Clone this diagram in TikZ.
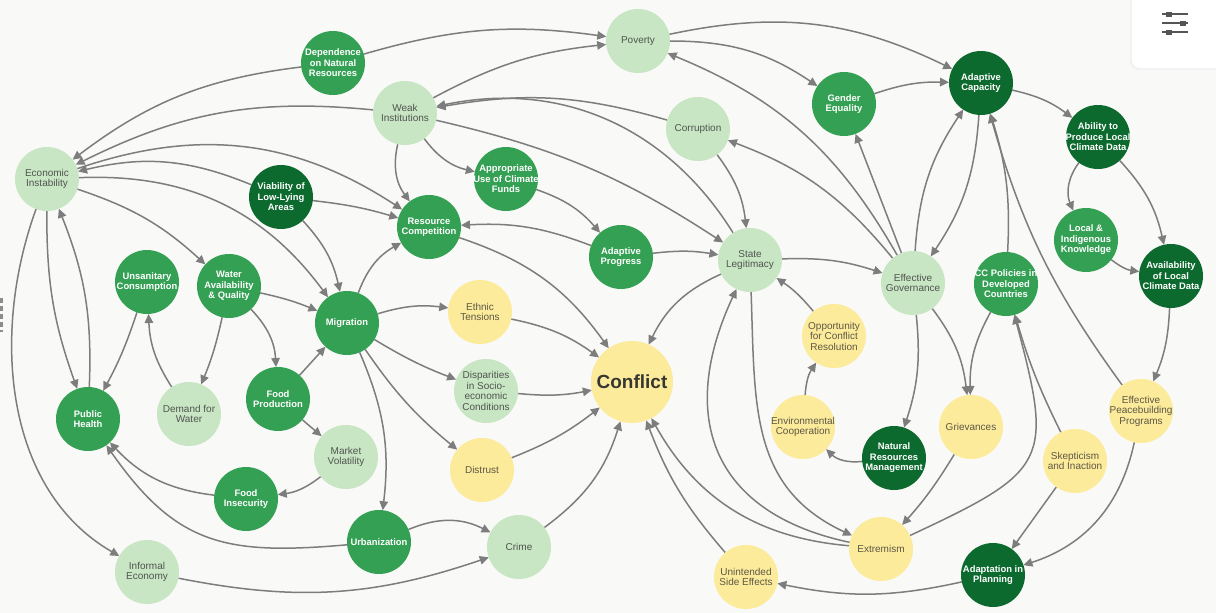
\documentclass[tikz,border=0pt]{standalone}
\usepackage{fontspec}
\setmainfont{Liberation Sans}
\usetikzlibrary{arrows.meta}
\definecolor{bgc}{RGB}{249,249,247}
\definecolor{lgreen}{RGB}{200,230,195}
\definecolor{mgreen}{RGB}{52,160,84}
\definecolor{dgreen}{RGB}{13,106,46}
\definecolor{yellowc}{RGB}{253,235,156}
\definecolor{lgtext}{RGB}{80,84,80}
\definecolor{ytext}{RGB}{92,88,68}
\definecolor{conftext}{RGB}{55,55,50}
\definecolor{edgec}{RGB}{125,125,125}
\definecolor{iconc}{RGB}{85,85,85}
\pgfdeclarelayer{bgl}
\pgfdeclarelayer{edges}
\pgfsetlayers{bgl,edges,main}
\tikzset{
  circ/.style={circle, minimum size=64pt, inner sep=0pt, outer sep=0pt},
  dktxt/.style={align=center, inner sep=0pt, font=\fontsize{10}{10.5}\selectfont},
  whtxt/.style={align=center, inner sep=0pt, text=white, font=\fontsize{9.4}{10.5}\selectfont\bfseries},
  lgn/.style={circ, fill=lgreen, label={[dktxt, text=lgtext]center:#1}},
  mgn/.style={circ, fill=mgreen, label={[whtxt]center:#1}},
  dgn/.style={circ, fill=dgreen, label={[whtxt]center:#1}},
  yln/.style={circ, fill=yellowc, label={[dktxt, text=ytext]center:#1}},
  e/.style={draw=edgec, line width=1.5pt, -{Triangle[length=9pt,width=8.5pt]}},
}
\begin{document}
\begin{tikzpicture}[x=1pt,y=1pt]
\begin{pgfonlayer}{bgl}
\fill[bgc] (0,0) rectangle (1216,-613);
% UI card
\begin{scope}
\clip (0,0) rectangle (1216,-613);
\fill[black!5, rounded corners=9pt] (1130,12) rectangle (1240,-70);
\fill[white, rounded corners=8pt] (1132,12) rectangle (1240,-68);
\end{scope}
\draw[iconc, line width=1.4pt] (1162,-14) -- (1188,-14) (1162,-23) -- (1188,-23) (1162,-32) -- (1188,-32);
\fill[iconc] (1166,-11.5) rectangle (1172,-16.5);
\fill[iconc] (1180,-20.5) rectangle (1186,-25.5);
\fill[iconc] (1166,-29.5) rectangle (1172,-34.5);
% left edge handle
\draw[black!45, line width=2.5pt, dash pattern=on 5pt off 3pt] (1.3,-298) -- (1.3,-332);
\end{pgfonlayer}

% nodes
\node[mgn={Dependence\\on Natural\\Resources}] (dnr) at (333,-63) {};
\node[lgn={Poverty}] (pov) at (638,-41) {};
\node[lgn={Weak\\Institutions}] (wi) at (405,-113) {};
\node[lgn={Corruption}] (cor) at (698,-129) {};
\node[mgn={Gender\\Equality}] (ge) at (844,-104) {};
\node[dgn={Adaptive\\Capacity}] (ac) at (981,-83) {};
\node[dgn={Ability to\\Produce Local\\Climate Data}] (abl) at (1098,-137) {};
\node[lgn={Economic\\Instability}] (ei) at (47,-179) {};
\node[dgn={Viability of\\Low-Lying\\Areas}] (via) at (281,-197) {};
\node[mgn={Appropriate\\Use of Climate\\Funds}] (aucf) at (506,-179) {};
\node[mgn={Resource\\Competition}] (rc) at (429,-227) {};
\node[mgn={Adaptive\\Progress}] (ap) at (621,-257) {};
\node[lgn={State\\Legitimacy}] (sl) at (750,-260) {};
\node[lgn={Effective\\Governance}] (eg) at (913,-283) {};
\node[mgn={CC Policies in\\Developed\\Countries}] (ccp) at (1006,-284) {};
\node[mgn={Local \&\\Indigenous\\Knowledge}] (lik) at (1086,-240) {};
\node[dgn={Availability\\of Local\\Climate Data}] (avl) at (1171,-276) {};
\node[mgn={Unsanitary\\Consumption}] (uc) at (147,-282) {};
\node[mgn={Water\\Availability\\\& Quality}] (wa) at (229,-286) {};
\node[mgn={Migration}] (mig) at (347,-323) {};
\node[yln={Ethnic\\Tensions}] (et) at (480,-312) {};
\node[lgn={Disparities\\in Socio-\\economic\\Conditions}] (disp) at (486,-391) {};
\node[circ, minimum size=82pt, fill=yellowc, text=conftext, font=\fontsize{19}{19}\selectfont\bfseries] (conf) at (632,-382) {Conflict};
\node[yln={Opportunity\\for Conflict\\Resolution}] (ocr) at (834,-336) {};
\node[mgn={Food\\Production}] (fp) at (278,-399) {};
\node[lgn={Demand for\\Water}] (dfw) at (189,-414) {};
\node[mgn={Public\\Health}] (ph) at (88,-419) {};
\node[lgn={Market\\Volatility}] (mv) at (346,-457) {};
\node[mgn={Food\\Insecurity}] (fi) at (246,-499) {};
\node[mgn={Urbanization}] (urb) at (379,-542) {};
\node[lgn={Informal\\Economy}] (ie) at (147,-572) {};
\node[yln={Distrust}] (dis) at (482,-470) {};
\node[lgn={Crime}] (cri) at (519,-547) {};
\node[yln={Unintended\\Side Effects}] (use) at (746,-577) {};
\node[yln={Environmental\\Cooperation}] (ec) at (803,-427) {};
\node[dgn={Natural\\Resources\\Management}] (nrm) at (894,-458) {};
\node[yln={Grievances}] (gri) at (971,-427) {};
\node[yln={Extremism}] (ext) at (881,-549) {};
\node[yln={Skepticism\\and Inaction}] (skp) at (1075,-461) {};
\node[yln={Effective\\Peacebuilding\\Programs}] (epp) at (1141,-411) {};
\node[dgn={Adaptation in\\Planning}] (aip) at (993,-575) {};

\begin{pgfonlayer}{edges}
\draw[e] (dnr) to[bend right=15] (ei);
\draw[e] (dnr) to[bend left=12] (pov);
\draw[e] (wi) to[bend right=16] (ei);
\draw[e] (via) to[bend right=18] (ei);
\draw[e] (ei) to[bend left=26] (rc);
\draw[e] (ei) to[bend left=28] (mig);
\draw[e] (ei) to[bend left=12] (wa);
\draw[e] (via) to[bend left=5] (rc);
\draw[e] (via) to[bend left=15] (mig);
\draw[e] (wa) to[bend left=5] (mig);
\draw[e] (mig) to[bend left=20] (rc);
\draw[e] (wi) to[bend left=11] (pov);
\draw[e] (cor) to[bend right=13] (wi);
\draw[e] (sl) to[bend right=35] (wi);
\draw[e] (wi) to[bend left=10] (sl);
\draw[e] (wi) to[bend right=20] (aucf);
\draw[e] (wi) to[bend right=25] (rc);
\draw[e] (aucf) to[bend left=15] (ap);
\draw[e] (ap) to[bend right=12] (rc);
\draw[e] (ap) to[bend left=8] (sl);
\draw[e] (rc) to[bend left=18] (conf);
\draw[e] (cor) to[bend left=15] (sl);
\draw[e] (pov) to[bend left=17] (ge);
\draw[e] (pov) to[bend left=19] (ac);
\draw[e] (eg) to[bend right=19] (pov);
\draw[e] (eg) to[bend right=15] (cor);
\draw[e] (ge) to[bend left=10] (ac);
\draw[e] (eg) -- (ge);
\draw[e] (eg) to[bend left=15] (ac);
\draw[e] (ac) to[bend left=15] (eg);
\draw[e] (ccp) to[bend right=10] (ac);
\draw[e] (epp) to[bend left=10] (ac);
\draw[e] (ac) to[bend left=12] (abl);
\draw[e] (abl) to[bend right=30] (lik);
\draw[e] (abl) to[bend left=15] (avl);
\draw[e] (lik) to[bend right=15] (avl);
\draw[e] (avl) to[bend left=10] (epp);
\draw[e] (epp) to[bend left=30] (aip);
\draw[e] (skp) -- (aip);
\draw[e] (skp) to[bend left=5] (ccp);
\draw[e] (ext) to[out=25,in=-75,looseness=1.6] (ccp);
\draw[e] (ccp) to[bend right=15] (gri);
\draw[e] (eg) to[bend left=15] (gri);
\draw[e] (eg) to[bend left=12] (nrm);
\draw[e] (nrm) to[bend left=25] (ec);
\draw[e] (ec) to[bend left=15] (ocr);
\draw[e] (ocr) to[bend right=8] (sl);
\draw[e] (sl) to[bend left=10] (eg);
\draw[e] (sl) to[bend right=20] (conf);
\draw[e] (sl) to[out=-88,in=155,looseness=1.1] (ext);
\draw[e] (ext) to[out=168,in=-115,looseness=1.3] (sl);
\draw[e] (ext) to[bend left=28] (conf);
\draw[e] (use) to[bend left=10] (conf);
\draw[e] (gri) to[bend left=5] (ext);
\draw[e] (aip) to[bend left=12] (use);
\draw[e] (ei) to[bend right=10] (ph);
\draw[e] (ph) to[bend right=12] (ei);
\draw[e] (ei) to[out=-110,in=150,looseness=0.95] (ie);
\draw[e] (uc) to[bend left=5] (ph);
\draw[e] (dfw) to[bend left=15] (uc);
\draw[e] (wa) to[bend left=5] (dfw);
\draw[e] (wa) to[bend left=20] (fp);
\draw[e] (fp) -- (mig);
\draw[e] (fp) -- (mv);
\draw[e] (mv) to[bend left=15] (fi);
\draw[e] (fi) to[bend left=20] (ph);
\draw[e] (urb) to[out=185,in=-55,looseness=1.2] (ph);
\draw[e] (ie) to[bend right=15] (cri);
\draw[e] (urb) to[bend left=25] (cri);
\draw[e] (mig) to[bend left=15] (urb);
\draw[e] (mig) to[bend left=12] (et);
\draw[e] (mig) to[bend right=5] (disp);
\draw[e] (mig) to[bend right=8] (dis);
\draw[e] (et) to[bend left=12] (conf);
\draw[e] (disp) to[bend right=8] (conf);
\draw[e] (dis) to[bend right=8] (conf);
\draw[e] (cri) to[bend right=18] (conf);
\end{pgfonlayer}
\pgfresetboundingbox
\path[use as bounding box] (0,0) rectangle (1216,-613);
\end{tikzpicture}
\end{document}
